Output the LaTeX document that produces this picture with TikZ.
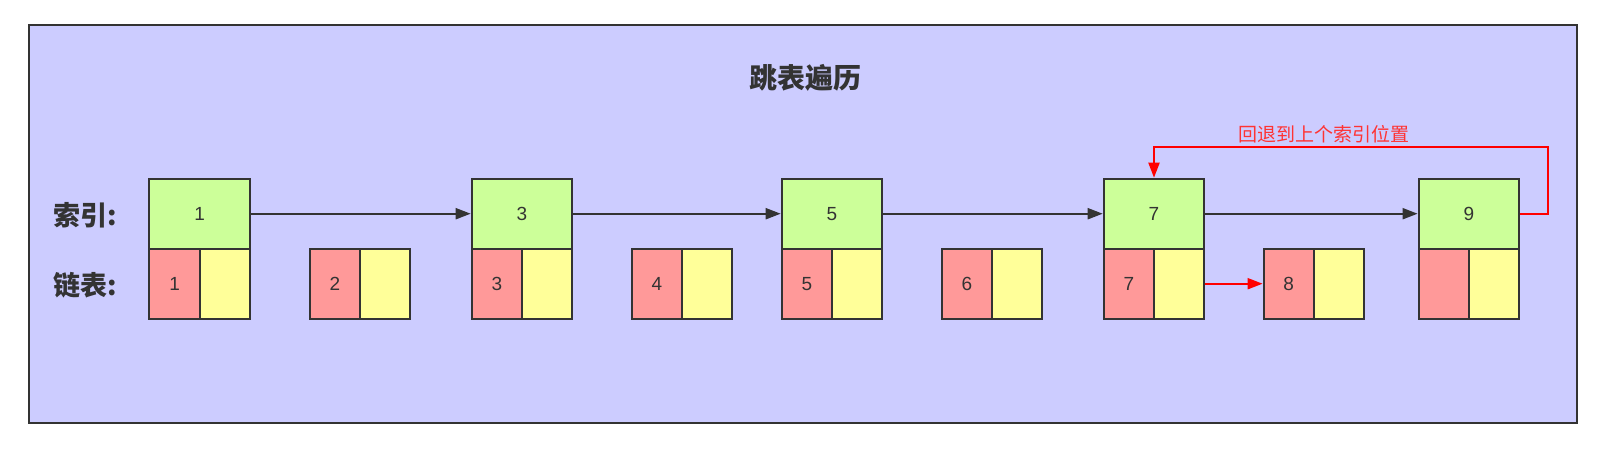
\documentclass[tikz,border=0pt]{standalone}
\usepackage{fontspec}
\setmainfont{Liberation Sans}
\newfontfamily\cjk{Noto Sans CJK SC}
\usetikzlibrary{arrows.meta}
\definecolor{bgc}{HTML}{CCCCFF}
\definecolor{linec}{HTML}{333333}
\definecolor{greenc}{HTML}{CCFF99}
\definecolor{redc}{HTML}{FF9999}
\definecolor{yellowc}{HTML}{FFFF99}
\definecolor{redline}{HTML}{FF0000}
\definecolor{redtext}{HTML}{FF3333}
\tikzset{
  idxbox/.style={draw=linec, fill=greenc, line width=2pt, minimum width=100.6pt, minimum height=70pt, inner sep=0pt, anchor=north west, text=linec, font=\fontsize{19}{19}\selectfont},
  dleft/.style={draw=linec, fill=redc, line width=2pt, minimum width=50.3pt, minimum height=70pt, inner sep=0pt, anchor=north west, text=linec, font=\fontsize{19}{19}\selectfont},
  dright/.style={draw=linec, fill=yellowc, line width=2pt, minimum width=50.3pt, minimum height=70pt, inner sep=0pt, anchor=north west},
  arr/.style={draw=linec, line width=2pt, -{Triangle[length=15pt,width=11pt]}},
  rarr/.style={draw=redline, line width=2pt, -{Triangle[length=15pt,width=11pt]}},
  lbl/.style={text=linec, font=\cjk\bfseries\fontsize{27}{27}\selectfont, inner sep=0pt},
}
\begin{document}
\begin{tikzpicture}[x=1pt,y=-1pt]
\useasboundingbox (0,0) rectangle (1601,448);
\draw[draw=linec, fill=bgc, line width=2.2pt] (29,25) rectangle (1577,423);
\node[lbl, font=\cjk\bfseries\fontsize{28}{28}\selectfont] (title) at (805,78) {跳表遍历};
\node[lbl] (lidx) at (85.5,215) {索引:};
\node[lbl] (llist) at (85.5,285) {链表:};
% index boxes
\node[idxbox] (i1) at (148.4,177.7) {1};
\node[idxbox] (i3) at (470.7,177.7) {3};
\node[idxbox] (i5) at (780.7,177.7) {5};
\node[idxbox] (i7) at (1102.7,177.7) {7};
\node[idxbox] (i9) at (1417.6,177.7) {9};
% data boxes
\foreach \n/\x/\t in {1/148.4/1, 2/308.7/2, 3/470.7/3, 4/630.7/4, 5/780.7/5, 6/940.7/6, 7/1102.7/7, 8/1262.6/8, 9/1417.6/{}}{
  \node[dleft] (dL\n) at (\x,247.7) {\t};
  \node[dright] (dR\n) at (\x+50.3,247.7) {};
}
% arrows
\draw[arr] (i1.east) -- (i3.west);
\draw[arr] (i3.east) -- (i5.west);
\draw[arr] (i5.east) -- (i7.west);
\draw[arr] (i7.east) -- (i9.west);
\draw[rarr] (dR7.east) -- (dL8.west);
\coordinate (c1) at (1548.3,147.3);
\draw[rarr] (i9.east) -| (c1) -| (i7.north);
\node[text=redtext, font=\cjk\fontsize{19}{19}\selectfont, inner sep=0pt] (back) at (1323.8,134.2) {回退到上个索引位置};
\end{tikzpicture}
\end{document}
